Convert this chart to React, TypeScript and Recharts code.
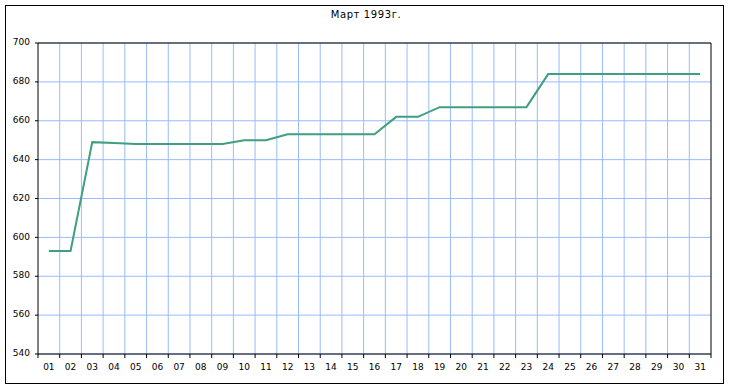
import React from "react";
import {
  LineChart,
  Line,
  XAxis,
  YAxis,
  CartesianGrid,
  ReferenceLine,
} from "recharts";

const title = "Март 1993г.";
const dayLabels = [
  "01", "02", "03", "04", "05", "06", "07", "08", "09", "10",
  "11", "12", "13", "14", "15", "16", "17", "18", "19", "20",
  "21", "22", "23", "24", "25", "26", "27", "28", "29", "30", "31",
];
const values = [
  593, 593, 649, 648.5, 648, 648, 648, 648, 648, 650,
  650, 653, 653, 653, 653, 653, 662, 662, 667, 667,
  667, 667, 667, 684, 684, 684, 684, 684, 684, 684, 684,
];
const yTicks = [540, 560, 580, 600, 620, 640, 660, 680, 700];

const data = dayLabels.map((label, i) => ({ day: i + 1, label, value: values[i] }));
const xDomain: [number, number] = [0.5, dayLabels.length + 0.5];
const labelTicks: number[] = [];
dayLabels.forEach((_, i) => {
  labelTicks.push(i + 0.5);
  labelTicks.push(i + 1);
});
labelTicks.push(dayLabels.length + 0.5);
const gridTicks = dayLabels.slice(0, -1).map((_, i) => i + 1.5);

const FONT = "'DejaVu Sans', sans-serif";

const DayTick = (props: any) => {
  const { x, y, payload } = props;
  const v = payload.value;
  if (Number.isInteger(v)) {
    return (
      <text x={x} y={y + 16} textAnchor="middle" fontSize={9} fontFamily={FONT} fill="#000">
        {dayLabels[v - 1]}
      </text>
    );
  }
  return <line x1={x} y1={y} x2={x} y2={y + 4} stroke="#000" strokeWidth={1} />;
};

const verticalGen = ({ xAxis, offset }: any) => {
  const scale = xAxis && xAxis.scale;
  if (typeof scale === "function") {
    return gridTicks.map((t) => scale(t));
  }
  const span = xDomain[1] - xDomain[0];
  return gridTicks.map((t) => offset.left + ((t - xDomain[0]) / span) * offset.width);
};

export default function App() {
  return (
    <div style={{ position: "absolute", left: 0, top: 0, width: 730, height: 390, background: "#fff" }}>
      <div
        style={{
          position: "absolute",
          left: 5,
          top: 5,
          width: 717,
          height: 377,
          border: "1px solid #000",
        }}
      />
      <div
        style={{
          position: "absolute",
          left: 0,
          top: 9,
          width: 732,
          textAlign: "center",
          fontFamily: FONT,
          fontSize: 10,
          letterSpacing: 0.6,
          color: "#000",
        }}
      >
        {title}
      </div>
      <div style={{ position: "absolute", left: 0, top: 0 }}>
        <LineChart
          width={730}
          height={390}
          data={data}
          margin={{ top: 43, right: 19, bottom: 6, left: 8 }}
        >
          <CartesianGrid
            stroke="#99bbff"
            strokeWidth={1}
            verticalCoordinatesGenerator={verticalGen}
          />
          <XAxis
            type="number"
            dataKey="day"
            domain={xDomain}
            ticks={labelTicks}
            interval={0}
            tick={<DayTick />}
            tickLine={false}
            tickSize={0}
            tickMargin={0}
            axisLine={{ stroke: "#000", strokeWidth: 1 }}
            height={30}
          />
          <YAxis
            type="number"
            domain={[540, 700]}
            ticks={yTicks}
            interval={0}
            width={30}
            tickSize={3}
            tickMargin={5}
            tick={{ fontSize: 9, fontFamily: FONT, fill: "#000", dy: -1 }}
            tickLine={{ stroke: "#000" }}
            axisLine={{ stroke: "#000", strokeWidth: 1 }}
          />
          <ReferenceLine y={700} stroke="#000" strokeWidth={1} />
          <ReferenceLine x={xDomain[1]} stroke="#000" strokeWidth={1} />
          <Line
            type="linear"
            dataKey="value"
            stroke="#3f9f80"
            strokeWidth={2}
            dot={false}
            isAnimationActive={false}
          />
        </LineChart>
      </div>
    </div>
  );
}
